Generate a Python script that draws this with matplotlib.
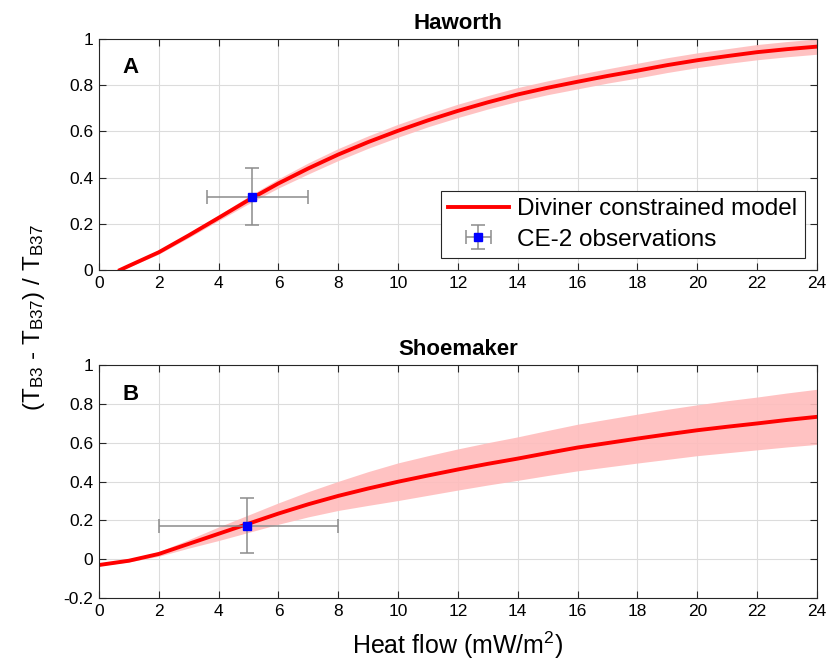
import matplotlib
matplotlib.use("Agg")
import matplotlib.pyplot as plt
import numpy as np

plt.rcParams['font.family'] = ['Liberation Sans', 'DejaVu Sans']
plt.rcParams['mathtext.fontset'] = 'custom'
plt.rcParams['mathtext.rm'] = 'Liberation Sans'
plt.rcParams['mathtext.it'] = 'Liberation Sans'

# Haworth model
hx = [0.7, 1, 2, 3, 4, 5, 6, 7, 8, 9, 10, 11, 12, 13, 14, 15, 16, 17, 18, 19, 20, 21, 22, 23, 24]
hy = [0.0, 0.018, 0.077, 0.150, 0.226, 0.303, 0.375, 0.440, 0.500, 0.554, 0.603, 0.648, 0.689, 0.726,
      0.760, 0.789, 0.815, 0.840, 0.863, 0.887, 0.908, 0.926, 0.943, 0.956, 0.967]
hw = [0.003, 0.005, 0.008, 0.010, 0.012, 0.016, 0.020, 0.024, 0.026, 0.027, 0.028, 0.028, 0.029, 0.029,
      0.030, 0.030, 0.031, 0.031, 0.032, 0.032, 0.032, 0.032, 0.033, 0.033, 0.033]

# Shoemaker model
sx = [0, 1, 2, 3, 4, 5, 6, 7, 8, 9, 10, 11, 12, 13, 14, 15, 16, 17, 18, 19, 20, 21, 22, 23, 24]
sy = [-0.030, -0.008, 0.027, 0.079, 0.131, 0.183, 0.235, 0.283, 0.326, 0.364, 0.399, 0.431, 0.462, 0.491,
      0.518, 0.547, 0.575, 0.598, 0.621, 0.643, 0.664, 0.682, 0.699, 0.717, 0.733]
sw = [0.004, 0.006, 0.012, 0.022, 0.035, 0.045, 0.055, 0.065, 0.075, 0.087, 0.097, 0.102, 0.106, 0.109,
      0.112, 0.116, 0.120, 0.123, 0.126, 0.129, 0.131, 0.134, 0.136, 0.139, 0.142]

# Observations (x, y, x-low, x-high, y-low, y-high)
obs_h = (5.1, 0.315, 3.6, 7.0, 0.195, 0.44)
obs_s = (4.95, 0.17, 2.0, 8.0, 0.03, 0.315)

xticks = list(range(0, 26, 2))
fig = plt.figure(figsize=(8.28, 6.61), dpi=100)
ax1 = fig.add_axes([0.1196, 0.5915, 0.867, 0.3495])
ax2 = fig.add_axes([0.1196, 0.0953, 0.867, 0.3525])

def style(ax, yticks, ylabels):
    ax.set_xlim(0, 24)
    ax.set_xticks(xticks)
    ax.set_xticklabels([str(t) for t in xticks], fontsize=12.5)
    ax.set_yticks(yticks)
    ax.set_yticklabels(ylabels, fontsize=12.5)
    ax.tick_params(direction='in', top=True, right=True, length=5, color='#262626', pad=4)
    ax.grid(True, color='#dcdcdc', linewidth=0.8)
    ax.set_axisbelow(True)
    for s in ax.spines.values():
        s.set_color('#262626')
        s.set_linewidth(0.8)

def draw(ax, x, y, w, obs, label):
    x = np.array(x); y = np.array(y); w = np.array(w)
    ax.fill_between(x, y - w, y + w, color='#ffbcbc', linewidth=0, alpha=0.9)
    line, = ax.plot(x, y, color='#ff0000', linewidth=2.8, label='Diviner constrained model',
                    solid_joinstyle='round')
    ox, oy, xl, xh, yl, yh = obs
    eb = ax.errorbar([ox], [oy], xerr=[[ox - xl], [xh - ox]], yerr=[[oy - yl], [yh - oy]],
                     fmt='s', color='#0000ff', markersize=6, ecolor='#8c8c8c', elinewidth=1.1,
                     capsize=5, capthick=1.1, label='CE-2 observations')
    ax.text(0.033, 0.92, label, transform=ax.transAxes, fontsize=16, fontweight='bold',
            va='top', ha='left')
    return line, eb

style(ax1, [0, 0.2, 0.4, 0.6, 0.8, 1], ['0', '0.2', '0.4', '0.6', '0.8', '1'])
ax1.set_ylim(0, 1)
draw(ax1, hx, hy, hw, obs_h, 'A')
ax1.set_title('Haworth', fontsize=16, fontweight='bold', pad=7)
leg = ax1.legend(loc='lower right', fontsize=17.5, fancybox=False, framealpha=1,
                 edgecolor='#262626', borderaxespad=0.5, handlelength=2.5,
                 handletextpad=0.35, borderpad=0.3, labelspacing=0.35)
leg.get_frame().set_linewidth(0.8)

style(ax2, [-0.2, 0, 0.2, 0.4, 0.6, 0.8, 1], ['-0.2', '0', '0.2', '0.4', '0.6', '0.8', '1'])
ax2.set_ylim(-0.2, 1)
draw(ax2, sx, sy, sw, obs_s, 'B')
ax2.set_title('Shoemaker', fontsize=16, fontweight='bold', pad=7)
ax2.set_xlabel('Heat flow (mW/m$^2$)', fontsize=18, labelpad=8)

fig.text(0.041, 0.52, r'(T$_{\mathrm{B3}}$ - T$_{\mathrm{B37}}$) / T$_{\mathrm{B37}}$',
         rotation=90, fontsize=17.5, ha='center', va='center')

fig.savefig('out.png', dpi=100)
